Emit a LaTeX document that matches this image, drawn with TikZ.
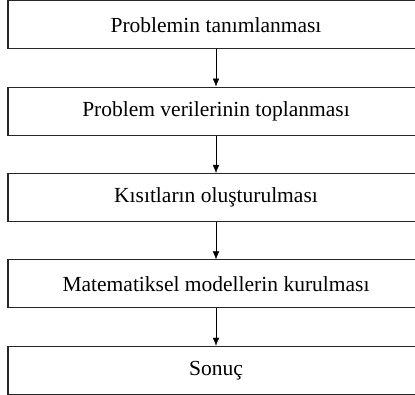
\documentclass[tikz,border=0pt]{standalone}
\usepackage{fontspec}
\setmainfont{Liberation Serif}
\usetikzlibrary{arrows.meta,positioning}

\begin{document}
\begin{tikzpicture}[>={Latex[length=8pt,width=6.5pt]},
    adim/.style={draw=black!85,line width=1.1pt,minimum width=416pt,minimum height=48pt,
      inner sep=0pt,font=\fontsize{21.5}{25}\selectfont},
    node distance=37.3pt]

    \useasboundingbox (0,0) rectangle (415pt,-394pt);

    \node[adim] (tanim) at (216pt,-24.7pt) {Problemin tanımlanması};
    \node[adim,below=of tanim] (veri) {Problem verilerinin toplanması};
    \node[adim,below=of veri] (kisit) {Kısıtların oluşturulması};
    \node[adim,below=of kisit] (model) {Matematiksel modellerin kurulması};
    \node[adim,below=of model] (sonuc) {Sonuç};

    \draw[->] (tanim) -- (veri);
    \draw[->] (veri) -- (kisit);
    \draw[->] (kisit) -- (model);
    \draw[->] (model) -- (sonuc);

\end{tikzpicture}
\end{document}
